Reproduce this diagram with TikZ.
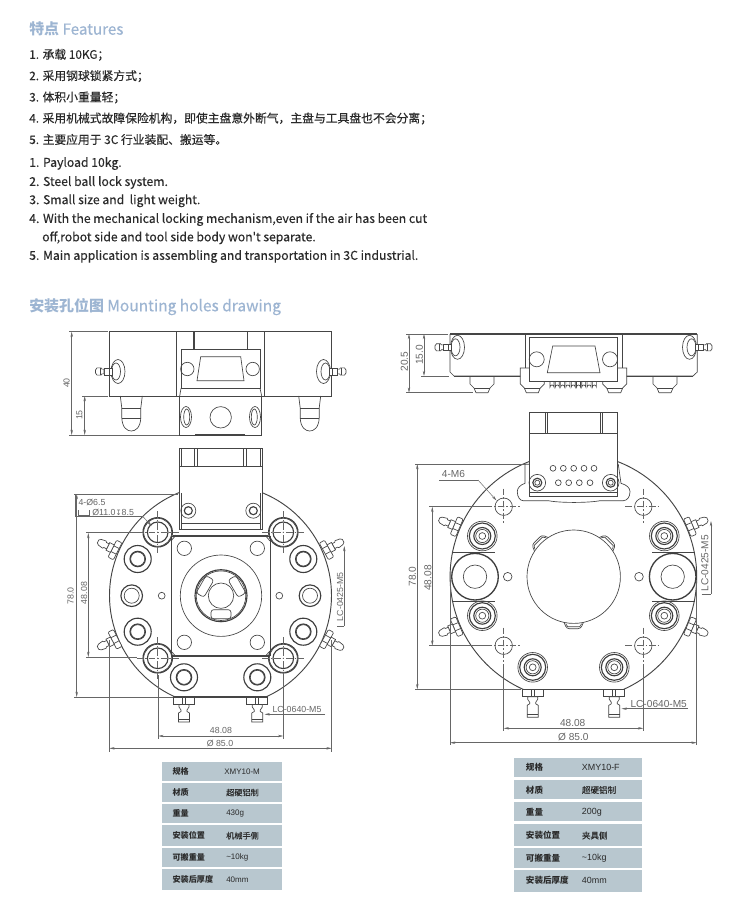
\documentclass[tikz,border=0pt]{standalone}
\usepackage{fontspec}
\usetikzlibrary{arrows.meta}
\setmainfont{Liberation Sans}
\newfontfamily\cnf{Noto Sans CJK SC}
\newfontfamily\cnm[FakeBold=0.25]{Noto Sans CJK SC}
\newfontfamily\cnh[FakeBold=0.3]{Noto Sans CJK SC}
\newfontfamily\djf{DejaVu Sans}
\definecolor{ink}{HTML}{454545}
\definecolor{dimc}{HTML}{666666}
\definecolor{head}{HTML}{9DB5D2}
\definecolor{band}{HTML}{B8C7CF}
\definecolor{txt}{HTML}{2A2A2A}
\tikzset{
  part/.style={draw=ink,line width=.5pt},
  thick part/.style={draw=ink!90!black,line width=.85pt},
  dim/.style={draw=dimc,line width=.35pt},
  dimarrow/.style={dim,{Stealth[length=4pt,width=1.8pt]}-{Stealth[length=4pt,width=1.8pt]}},
  lead/.style={dim,-{Stealth[length=4pt,width=1.8pt]}},
  axis/.style={draw=dimc,line width=.35pt,dash pattern=on 5pt off 1.5pt on 1pt off 1.5pt},
  heading/.style={anchor=west,inner sep=0,text=head,font=\cnf\bfseries\fontsize{11.2}{13}\selectfont},
  body/.style={anchor=west,inner sep=0,yshift=-.6pt,text=txt,font=\cnm\fontsize{8.85}{10}\selectfont},
  bodye/.style={anchor=west,inner sep=0,yshift=-.6pt,text=txt,font=\cnm\fontsize{9.15}{10}\selectfont},
  lab/.style={inner sep=0,text=dimc,font=\fontsize{6.6}{8}\selectfont},
  labb/.style={inner sep=0,text=dimc,font=\fontsize{7.6}{9}\selectfont},
  rowband/.style={fill=band,draw=none},
  tk/.style={anchor=west,inner sep=0,text=txt,font=\cnf\bfseries\fontsize{6.1}{7}\selectfont},
  tv/.style={anchor=west,inner sep=0,text=txt,font=\cnf\fontsize{6.1}{7}\selectfont},
}
% plate fitting, local +x points out along the nipple
\newcommand{\plfit}[3]{\begin{scope}[shift={(#1,#2)},rotate=#3]
  \draw[part,fill=white,rounded corners=.8pt] (-3,-9.5) rectangle (3,9.5);
  \draw[part] (-3,-3.2) -- (3,-3.2) (-3,3.2) -- (3,3.2);
  \draw[part,fill=white] (3,-4.2) -- (8,-4.2) -- (8,4.2) -- (3,4.2) -- cycle;
  \draw[part,fill=white] (8,-2.8) -- (11,-2.8) -- (12,-4) -- (17,-3.2) -- (19,-1.6) -- (19,1.6) -- (17,3.2) -- (12,4) -- (11,2.8) -- (8,2.8) -- cycle;
  \end{scope}}
% side fitting: #3=1 to the right, -1 to the left
\newcommand{\sdfit}[3]{\begin{scope}[shift={(#1,#2)},xscale=#3]
  \draw[part,fill=white] (0,0) ellipse [x radius=7,y radius=12];
  \draw[part] (2,0) ellipse [x radius=4.5,y radius=8.5];
  \draw[part,fill=white] (6,-3.4) rectangle (14,3.4);
  \draw[part,fill=white] (14,-2.4) -- (16,-2.4) -- (17,-3.6) -- (21,-3.6) -- (22.5,-1.5) -- (22.5,1.5) -- (21,3.6) -- (17,3.6) -- (16,2.4) -- (14,2.4) -- cycle;
  \draw[part] (9,-3.4) -- (9,3.4) (18,-3.6) -- (18,3.6);
  \end{scope}}
% bottom fitting, #3 = overall length
\newcommand{\btfit}[3]{\begin{scope}[shift={(#1,#2)}]
  \draw[part,fill=white] (-10.5,0) rectangle (10.5,7.5);
  \draw[part] (-1.5,0) -- (-1.5,7.5) (1.5,0) -- (1.5,7.5);
  \draw[part,fill=white] (-5,7.5) -- (5,7.5) -- (5,10) -- (3,13) -- (3,14.5) -- (5.5,16) -- (5.5,#3) -- (-5.5,#3) -- (-5.5,16) -- (-3,14.5) -- (-3,13) -- (-5,10) -- cycle;
  \draw[part] (-5.5,{#3-3}) -- (5.5,{#3-3});
  \end{scope}}
\newcommand{\ringa}[2]{\draw[thick part] (#1,#2) circle[radius=14.7];\draw[part] (#1,#2) circle[radius=14];\draw[thick part] (#1,#2) circle[radius=10.3];
  \fill[ink] (#1,#2) circle[radius=.6];
  \draw[axis] ({#1-21},#2) -- ({#1+21},#2) (#1,{#2-21}) -- (#1,{#2+21});}
\newcommand{\ringb}[2]{\draw[thick part] (#1,#2) circle[radius=13.5];\draw[thick part] (#1,#2) circle[radius=7.7];\draw[part] (#1,#2) circle[radius=7];}
\newcommand{\ringc}[2]{\draw[part] (#1,#2) circle[radius=14.8];\draw[thick part] (#1,#2) circle[radius=13];\draw[thick part] (#1,#2) circle[radius=8.5];\draw[part] (#1,#2) circle[radius=6.6];\draw[part] (#1,#2) circle[radius=3.4];}
\newcommand{\mholer}[2]{\draw[part] (#1,#2) circle[radius=8.7];\fill[ink] (#1,#2) circle[radius=.7];
  \draw[axis] ({#1-18},#2) -- ({#1+18},#2) (#1,{#2-18}) -- (#1,{#2+18});}
\begin{document}
\begin{tikzpicture}[x=.75pt,y=-.75pt]
\useasboundingbox (0,0) rectangle (750,920);
\fill[white] (0,0) rectangle (750,920);
% ---------- text blocks
\node[heading] (h1) at (29,29) {特点 {\mdseries\cnh\fontsize{11.4}{13}\selectfont Features}};
\node[body] (c1) at (29,54) {1. 承载 10KG；};
\node[body] (c2) at (29,75.3) {2. 采用钢球锁紧方式；};
\node[body] (c3) at (29,96.7) {3. 体积小重量轻；};
\node[body] (c4) at (29,117.7) {4. 采用机械式故障保险机构，即使主盘意外断气，主盘与工具盘也不会分离；};
\node[body] (c5) at (29,138.7) {5. 主要应用于 3C 行业装配、搬运等。};
\node[bodye] (e1) at (29,162.7) {1. Payload 10kg.};
\node[bodye] (e2) at (29,181.7) {2. Steel ball lock system.};
\node[bodye] (e3) at (29,200) {3. Small size and\ \ light weight.};
\node[bodye] (e4) at (29,218.7) {4. With the mechanical locking mechanism,even if the air has been cut};
\node[bodye] (e4b) at (42,237) {off,robot side and tool side body won't separate.};
\node[bodye] (e5) at (29,255.7) {5. Main application is assembling and transportation in 3C industrial.};
\node[heading] (h2) at (29,306.7) {安装孔位图 {\mdseries\cnh\fontsize{11.6}{13}\selectfont Mounting holes drawing}};
% ---------- LEFT side view
\draw[part,line width=.8pt] (109.3,331.7) -- (331.7,331.7);
\draw[part] (109.3,331.7) rectangle (331.7,396);
\draw[part] (176.7,331.7) -- (176.7,396) (264.3,331.7) -- (264.3,396);
\draw[part,line width=.8pt] (194,331.7) -- (194,349.3) (247.3,331.7) -- (247.3,349.3);
\draw[part,fill=white] (179.7,396) rectangle (261.7,435);
\draw[part,fill=white] (181,349.3) rectangle (260,388.3);
\draw[part] (181,388.3) -- (179.7,396) (260,388.3) -- (261.7,396);
\draw[part] (200.7,356.7) -- (240.7,356.7) -- (244,380.7) -- (197,380.7) -- cycle;
\draw[part] (187.3,369) circle[radius=6.7] (252.7,369) circle[radius=6.7];
\draw[part] (220.7,417.3) circle[radius=10.7];
\draw[part] (186,417) ellipse[x radius=5.5,y radius=10.5] (186.7,417) ellipse[x radius=3,y radius=8];
\draw[part] (255,417) ellipse[x radius=5.5,y radius=10.5] (254.3,417) ellipse[x radius=3,y radius=8];
\draw[part,line width=.9pt] (195,435) -- (245,435);
\foreach \fx in {131.3,309.7}{
  \draw[part,fill=white] ({\fx-11},396) -- ({\fx-9.5},408) -- ({\fx-9.5},418) .. controls ({\fx-9},428) and ({\fx-4},431) .. (\fx,431) .. controls ({\fx+4},431) and ({\fx+9},428) .. ({\fx+9.5},418) -- ({\fx+9.5},408) -- ({\fx+11},396);
  \draw[part] ({\fx-9.5},408) -- ({\fx+9.5},408) ({\fx-9.5},418) -- ({\fx+9.5},418);
}
\draw[part,line width=.75pt] (109.3,396) -- (331.7,396);
\sdfit{118}{371.5}{-1}
\sdfit{323.5}{371.5}{1}
% left dims
\draw[dim] (69,331.7) -- (108,331.7) (69,435) -- (179,435) (82,396) -- (108,396);
\draw[dimarrow] (71.7,331.7) -- (71.7,435);
\draw[dimarrow] (84.7,396) -- (84.7,435);
\node[lab,rotate=90] (l40) at (66.7,383) {40};
\node[lab,rotate=90] (l15) at (79.5,415) {15};
% ---------- LEFT plan view
\begin{scope}
  \clip (0,440) rectangle (750,697);
  \draw[part,line width=.7pt,fill=white] (220.5,595.6) circle[radius=111];
\end{scope}
\draw[part,line width=.8pt] (173,697) -- (268,697);
\draw[part,fill=white] (179.3,448) rectangle (262.7,529);
\draw[part] (181,448) -- (181,466.7) (260,448) -- (260,466.7);
\draw[part] (179.3,466.7) -- (262.7,466.7);
\draw[part] (194.3,448) -- (194.3,466.7) (197.7,448) -- (197.7,466.7) (243.3,448) -- (243.3,466.7) (246.7,448) -- (246.7,466.7);
\draw[part] (181,523) -- (260,523);
\draw[part] (181,493) -- (181,529) (260,493) -- (260,529);
\foreach \hx in {188.3,253.3}{
  \draw[part] (\hx,510.7) circle[radius=7.5];
  \draw[thick part] (\hx,510.7) circle[radius=4];
}
% square
\draw[part,line width=.7pt] (171,536.7) rectangle (270,655);
\draw[part] (173,535) -- (268,535) (173,656.5) -- (268,656.5);
\draw[part] (171,541) -- (176,535) (270,541) -- (265,535) (171,651) -- (176,656.5) (270,651) -- (265,656.5);
\foreach \qx in {184.3,257.3}{\foreach \qy in {548.3,642.3}{\draw[part] (\qx,\qy) circle[radius=7.2];}}
\draw[part] (221,595.7) circle[radius=40.7];
\draw[thick part] (221,595.7) circle[radius=26];
\draw[part] (221,595.7) circle[radius=24.8];
\draw[part] (221,595.7) circle[radius=12.7];
\foreach \a in {180,300,60}{
  \begin{scope}[shift={(221,595.7)},rotate=\a]
    \draw[part,rounded corners=2pt] (-10,-14) -- (-10,-23) -- (10,-23) -- (10,-14) -- cycle;
  \end{scope}
}
\ringa{157.7}{532.3}\ringa{283.3}{532.3}\ringa{157.7}{658.3}\ringa{283.3}{658.3}
\ringb{137.7}{559}\ringb{303.3}{559}\ringb{137.7}{631.7}\ringb{303.3}{631.7}\ringb{184}{677.3}\ringb{257.3}{677.3}
\draw[thick part] (131.7,595.7) circle[radius=10.8];\draw[part] (131.7,595.7) circle[radius=7.5];
\draw[thick part] (310,595.7) circle[radius=10.8];\draw[part] (310,595.7) circle[radius=7.5];
\draw[part] (161.7,595.7) circle[radius=3.4] (279.3,595.7) circle[radius=3.4];
\plfit{115}{550}{153}
\plfit{326.5}{550}{29}
\plfit{115}{639.3}{207}
\plfit{326.5}{639.3}{-29}
\btfit{184}{697}{25}
\btfit{257.3}{697}{25}
% left plan dims
\draw[dim] (74,494) -- (178,494) (74,697) -- (173,697) (86,532.3) -- (143,532.3) (86,657.5) -- (137,657.5);
\draw[dimarrow] (76.7,494) -- (76.7,697);
\draw[dimarrow] (88.3,533) -- (88.3,657);
\node[lab,rotate=90] (l78) at (70.7,595.7) {78.0};
\node[lab,rotate=90] (l48v) at (84,593) {48.08};
\draw[dim] (158.3,675) -- (158.3,739) (283.3,675) -- (283.3,739) (109.3,640) -- (109.3,752) (331.7,640) -- (331.7,752);
\draw[dimarrow] (158.3,736) -- (283.3,736);
\draw[dimarrow] (109.3,748.3) -- (331.7,748.3);
\node[lab] (l48h) at (221,730) {48.08};
\node[lab] (l85) at (220,743.3) {Ø 85.0};
\node[lab,anchor=west] (l65) at (78.3,502.3) {4-Ø6.5};
\node[lab,anchor=west] (l11) at (92,512) {Ø11.0{\djf\fontsize{5.5}{6}\selectfont ↧}8.5};
\draw[dim] (75,494) -- (75,516.7) -- (143,516.7);
\draw[lead] (143,516.7) -- (151.7,526);
\draw[dim] (78.5,510) -- (78.5,515) -- (89,515) -- (89,510);
\node[lab,rotate=90] (l0425) at (340,596.7) {LC-0425-M5};
\draw[dim] (337,626) -- (344.3,626);
\draw[lead] (344.3,626) -- (344.3,546);
\node[lab] (l0640) at (297,709) {LC-0640-M5};
\draw[lead] (325,714.3) -- (264.5,714.3);
% ---------- RIGHT side view
\draw[part,line width=.8pt] (450,334) -- (697.3,334);
\draw[part] (450,334) -- (450,372) -- (454,376) -- (693,376) -- (697.3,372) -- (697.3,334);
\draw[part] (525,334) -- (525,376) (622.3,334) -- (622.3,376);
\foreach \fx in {482,665}{
  \draw[part,fill=white] ({\fx-12},376) -- ({\fx-12},384) -- ({\fx-8},388) -- ({\fx-6},392.7) -- ({\fx+6},392.7) -- ({\fx+8},388) -- ({\fx+12},384) -- ({\fx+12},376);
  \draw[part] ({\fx-8},388) -- ({\fx+8},388);
}
\draw[part,line width=.75pt] (454,376) -- (693,376);
\foreach \fx in {532.3,614.7}{
  \draw[part,fill=white] ({\fx-12},368) -- ({\fx+12},368) -- ({\fx+12},384) -- ({\fx+8},388) -- ({\fx+6},392.7) -- ({\fx-6},392.7) -- ({\fx-8},388) -- ({\fx-12},384) -- cycle;
  \draw[part] ({\fx-8},388) -- ({\fx+8},388);
}
\foreach \p in {0,1,...,8}{\draw[part] ({550+\p*5.3},381) -- ({550+\p*5.3},387) arc[start angle=180,end angle=360,radius=2] -- ({554+\p*5.3},381);}
\draw[part,line width=.7pt,fill=white] (529.3,337.3) rectangle (617.7,381);
\draw[part,fill=white] (552.7,346) -- (595,346) -- (600,372.7) -- (547.3,372.7) -- cycle;
\draw[part] (536.7,359.3) circle[radius=7.5] (610,359.3) circle[radius=7.5];
\sdfit{457.5}{347.3}{-1}
\sdfit{689.5}{347.3}{1}
\draw[dim] (406,334) -- (448,334) (421,376) -- (449,376) (406,392.7) -- (473,392.7);
\draw[dimarrow] (409,334) -- (409,392.7);
\draw[dimarrow] (424,334) -- (424,376);
\node[labb,rotate=90] (r205) at (404.3,361.7) {20.5};
\node[labb,rotate=90] (r15) at (419.3,355) {15.0};
% ---------- RIGHT plan view
\begin{scope}
  \clip (0,440) rectangle (750,689.3);
  \draw[part,line width=.7pt,fill=white] (573.4,576.7) circle[radius=123.3];
\end{scope}
\draw[part,line width=.8pt] (522,689.3) -- (625,689.3);
\draw[part] (451.5,552.7) -- (495,552.7) (451.5,601.7) -- (495,601.7) (652,552.7) -- (695,552.7) (652,601.7) -- (695,601.7);
\draw[part,fill=white] (525,464.3) -- (525,483.3) .. controls (520,485) and (517.3,488) .. (517.3,491.7) .. controls (517.3,497) and (520,500.7) .. (523.3,500.7) -- (548.3,500.7) .. controls (560,503) and (588,503) .. (600,500.7) -- (623.3,500.7) .. controls (627,500.7) and (630,497) .. (630,491.7) .. controls (630,488) and (627,485) .. (621,483.3) -- (618.3,464.3) -- cycle;
\draw[part,fill=white] (529.3,412.7) rectangle (617.7,496.7);
\draw[part] (529.3,433.3) -- (617.7,433.3);
\draw[part] (545.3,412.7) -- (545.3,433.3) (547.7,412.7) -- (547.7,433.3) (600,412.7) -- (600,433.3) (602.3,412.7) -- (602.3,433.3);
\draw[part] (529.3,492) -- (617.7,492);
\foreach \hx in {537.3,610.7}{
  \draw[part] (\hx,482.7) circle[radius=8.3];
  \draw[thick part] (\hx,482.7) circle[radius=4.5];
  \draw[part] (\hx,482.7) circle[radius=2.5];
}
\foreach \px in {553,563.3,573.7,584,594}{\draw[part] (\px,468.3) circle[radius=2.9];}
\foreach \px in {558.3,568.7,579.3,590}{\draw[part] (\px,482.7) circle[radius=2.9];}
\foreach \rx in {475,672.7}{
  \draw[thick part,line width=1pt] (\rx,576.7) circle[radius=23.3];
  \draw[part] (\rx,576.7) circle[radius=11.7];
}
\draw[part] (507.7,576.7) circle[radius=4.3] (639,576.7) circle[radius=4.3];
\foreach \a in {135,45,270}{
  \begin{scope}[shift={(573.7,576.7)},rotate=\a]
    \draw[part,rounded corners=2pt] (45,-10) -- (52,-7) -- (52,7) -- (45,10);
    \draw[part] (47,-8) -- (50,-6) -- (50,6) -- (47,8);
  \end{scope}
}
\draw[part,fill=white] (573.7,576.7) circle[radius=46.7];
\mholer{503.7}{506.7}\mholer{643.3}{506.7}\mholer{503.7}{645.7}\mholer{643.3}{645.7}
\ringc{482.3}{536}\ringc{664.3}{536}\ringc{482.3}{615.7}\ringc{664.3}{615.7}\ringc{532.7}{667.3}\ringc{614.3}{667.3}
\plfit{456.7}{526.7}{157}
\plfit{690}{526.7}{23}
\plfit{456.7}{626.7}{203}
\plfit{690}{626.7}{-23}
\btfit{532.7}{689.3}{28}
\btfit{614.3}{689.3}{28}
% right dims
\draw[dim] (415,464) -- (525,464) (415,689.3) -- (521,689.3) (429,506.7) -- (486,506.7) (429,645.7) -- (486,645.7);
\draw[dimarrow] (417.3,464) -- (417.3,689.3);
\draw[dimarrow] (432.3,506.7) -- (432.3,645.7);
\node[labb,rotate=90] (r78) at (412.3,576.7) {78.0};
\node[labb,rotate=90] (r48v) at (428,578) {48.08};
\draw[dim] (503.7,664) -- (503.7,731) (643.3,664) -- (643.3,731) (450,580) -- (450,745) (696.7,580) -- (696.7,745);
\draw[dimarrow] (503.7,728.3) -- (643.3,728.3);
\draw[dimarrow] (450,742.7) -- (696.7,742.7);
\node[labb] (r48h) at (572.7,723.3) {48.08};
\node[labb] (r85) at (573.3,736.7) {Ø 85.0};
\node[labb,anchor=west] (rm6) at (441.7,474.3) {4-M6};
\draw[dim] (439,480) -- (478,480);
\draw[lead] (478,480) -- (496.5,500.5);
\node[labb,rotate=90] (r0425) at (705,563.3) {LC-0425-M5};
\draw[dim] (701.7,594) -- (711,594);
\draw[lead] (711,594) -- (711,521);
\node[labb] (r0640) at (658.7,704) {LC-0640-M5};
\draw[lead] (688,708.7) -- (621.5,708.7);
% ---------- tables
\foreach \ya/\yb in {762.3/781,783/802,804.3/823,825/846.3,848.3/867,869.3/889.7}{\fill[rowband] (161.7,\ya) rectangle (281.7,\yb);}
\foreach \ya/\yb in {757.7/777.3,780/799.3,801.7/821.3,824/845.7,848.3/867.7,870/891.7}{\fill[rowband] (514,\ya) rectangle (641.7,\yb);}
\node[tk] (a1) at (172.3,771.7) {规格};
\node[tk] (a2) at (172.3,792.5) {材质};
\node[tk] (a3) at (172.3,813.7) {重量};
\node[tk] (a4) at (172.3,835.7) {安装位置};
\node[tk] (a5) at (172.3,857.7) {可搬重量};
\node[tk] (a6) at (172.3,879.5) {安装后厚度};
\node[tv,font=\fontsize{6}{7}\selectfont] (b1) at (224,771.7) {XMY10-M};
\node[tv,font=\cnm\fontsize{6.1}{7}\selectfont] (b2) at (226,792.5) {超硬铝制};
\node[tv,font=\fontsize{6}{7}\selectfont] (b3) at (226,813.7) {430g};
\node[tv,font=\cnm\fontsize{6.1}{7}\selectfont] (b4) at (226,835.7) {机械手侧};
\node[tv,font=\fontsize{6}{7}\selectfont] (b5) at (226,857.7) {\textasciitilde10kg};
\node[tv,font=\fontsize{6}{7}\selectfont] (b6) at (226,879.5) {40mm};
\node[tk,font=\cnf\bfseries\fontsize{6.4}{7}\selectfont] (c1t) at (525.7,767.7) {规格};
\node[tk,font=\cnf\bfseries\fontsize{6.4}{7}\selectfont] (c2t) at (525.7,790) {材质};
\node[tk,font=\cnf\bfseries\fontsize{6.4}{7}\selectfont] (c3t) at (525.7,812.5) {重量};
\node[tk,font=\cnf\bfseries\fontsize{6.4}{7}\selectfont] (c4t) at (525.7,835.5) {安装位置};
\node[tk,font=\cnf\bfseries\fontsize{6.4}{7}\selectfont] (c5t) at (525.7,858) {可搬重量};
\node[tk,font=\cnf\bfseries\fontsize{6.4}{7}\selectfont] (c6t) at (525.7,880.5) {安装后厚度};
\node[tv,font=\fontsize{6.7}{8}\selectfont] (d1) at (581.7,767.7) {XMY10-F};
\node[tv,font=\cnm\fontsize{6.4}{7}\selectfont] (d2) at (581.7,790) {超硬铝制};
\node[tv,font=\fontsize{6.7}{8}\selectfont] (d3) at (581.7,812.5) {200g};
\node[tv,font=\cnm\fontsize{6.4}{7}\selectfont] (d4) at (581.7,835.5) {夹具侧};
\node[tv,font=\fontsize{6.7}{8}\selectfont] (d5) at (581.7,858) {\textasciitilde10kg};
\node[tv,font=\fontsize{6.7}{8}\selectfont] (d6) at (581.7,880.5) {40mm};
\end{tikzpicture}
\end{document}
